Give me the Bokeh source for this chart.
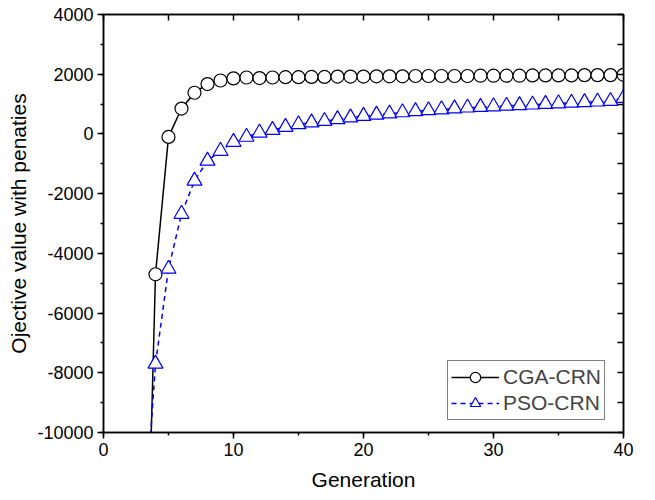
from bokeh.plotting import figure
from bokeh.models import (LinearAxis, SingleIntervalTicker, Range1d, Legend, LegendItem,
                          CustomJSTickFormatter)
from bokeh.embed import file_html
from bokeh.resources import INLINE

generation = list(range(3, 41))
cga_crn = [-21000, -4700, -100, 850, 1380, 1670, 1790, 1860, 1890, 1870, 1890, 1900, 1900,
           1910, 1910, 1920, 1920, 1920, 1930, 1930, 1930, 1940, 1940, 1940, 1940, 1940,
           1950, 1950, 1950, 1950, 1960, 1960, 1960, 1960, 1970, 1970, 1970, 1980]
pso_crn = [-14000, -7700, -4520, -2680, -1570, -900, -570, -270, -100, 40, 130, 230, 320,
           380, 430, 490, 550, 600, 640, 680, 720, 760, 790, 820, 850, 880, 900, 920,
           940, 960, 980, 1000, 1020, 1040, 1060, 1080, 1100, 1200]

FONT = "Liberation Sans"

p = figure(frame_width=520, frame_height=418,
           x_range=Range1d(0, 40), y_range=Range1d(-10000, 4000),
           output_backend="svg", toolbar_location=None,
           min_border_left=103, min_border_top=14, min_border_right=12, min_border_bottom=60)
p.xaxis.visible = False
p.yaxis.visible = False
p.grid.visible = False
p.outline_line_color = "black"
p.outline_line_width = 1.5

fmt = CustomJSTickFormatter(code="return tick.toFixed(0);")

def style(ax, labels=True, inward=False):
    ax.axis_line_color = "black"
    ax.axis_line_width = 1.5
    ax.major_tick_line_width = 1.5
    ax.minor_tick_line_width = 1.5
    if inward:
        ax.major_tick_in, ax.major_tick_out = 6, 0
        ax.minor_tick_in, ax.minor_tick_out = 6, 0
    else:
        ax.major_tick_in, ax.major_tick_out = 0, 6
        ax.minor_tick_in, ax.minor_tick_out = 0, 3
    ax.major_label_text_font = FONT
    ax.major_label_text_font_size = "18px"
    ax.major_label_text_color = "black"
    ax.axis_label_text_font = FONT
    ax.axis_label_text_font_size = "21px"
    ax.axis_label_text_font_style = "normal"
    ax.axis_label_text_color = "black"
    if labels:
        ax.formatter = fmt
        ax.major_label_standoff = 4
    else:
        ax.formatter = CustomJSTickFormatter(code="return '';")
        ax.major_label_standoff = 0

xb = LinearAxis(ticker=SingleIntervalTicker(interval=10, num_minor_ticks=2),
                axis_label="Generation")
style(xb)
xb.axis_label_standoff = 9
p.add_layout(xb, "below")
yl = LinearAxis(ticker=SingleIntervalTicker(interval=2000, num_minor_ticks=2),
                axis_label="Ojective value with penaties")
style(yl)
yl.axis_label_standoff = 4
p.add_layout(yl, "left")
xa = LinearAxis(ticker=SingleIntervalTicker(interval=5, num_minor_ticks=0))
style(xa, labels=False, inward=True)
p.add_layout(xa, "above")
yr = LinearAxis(ticker=SingleIntervalTicker(interval=1000, num_minor_ticks=0))
style(yr, labels=False, inward=True)
p.add_layout(yr, "right")

l1 = p.line(generation, cga_crn, line_color="black", line_width=1.5)
s1 = p.scatter(generation, cga_crn, marker="circle", size=13, fill_color="white",
               line_color="black", line_width=1.2)
l2 = p.line(generation, pso_crn, line_color="#0000ff", line_width=1.5, line_dash="5 4")
s2 = p.scatter(generation, pso_crn, marker="triangle", size=15, fill_color="white",
               line_color="#0000ff", line_width=1.2)

legend = Legend(items=[LegendItem(label="CGA-CRN", renderers=[l1, s1]),
                       LegendItem(label="PSO-CRN", renderers=[l2, s2])],
                location=(344, 12))
legend.label_text_font = FONT
legend.label_text_font_size = "21px"
legend.glyph_width = 48
legend.glyph_height = 26
legend.label_height = 26
legend.spacing = 0
legend.padding = 3
legend.margin = 0
legend.label_standoff = 4
legend.border_line_color = "black"
legend.border_line_width = 1
legend.background_fill_alpha = 1
p.add_layout(legend, "center")

open("out.html", "w").write(file_html(p, INLINE))
